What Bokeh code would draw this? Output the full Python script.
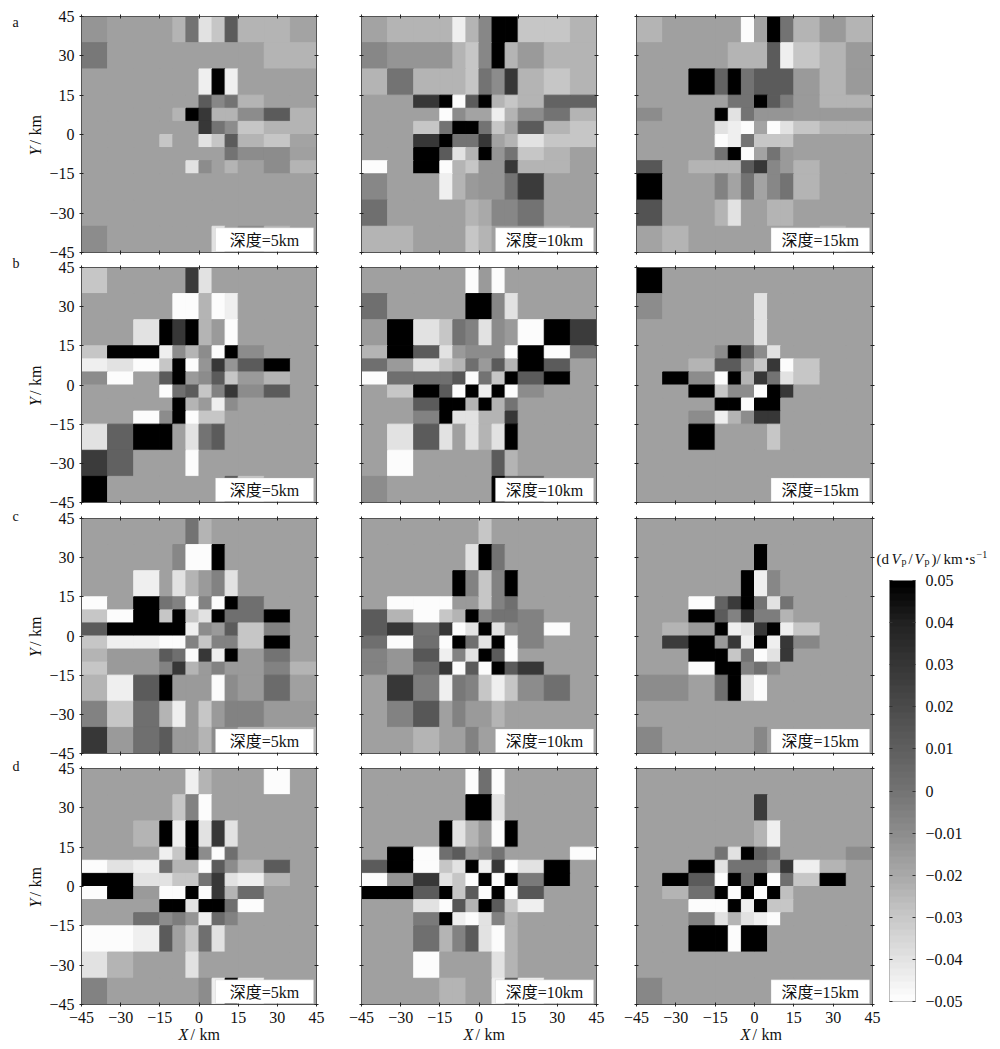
import numpy as np
from bokeh.embed import file_html
from bokeh.layouts import column, row
from bokeh.models import (BoxAnnotation, ColumnDataSource, FixedTicker, Label, LinearAxis,
                          LinearColorMapper, Range1d)
from bokeh.core.properties import value
from bokeh.plotting import figure
from bokeh.resources import INLINE
from bokeh.transform import transform

X_EDGES = [-45, -35, -25, -15, -10, -5, 0, 5, 10, 15, 25, 35, 45]
Y_EDGES = [45, 35, 25, 15, 10, 5, 0, -5, -10, -15, -25, -35, -45]
TICKS = [-45, -30, -15, 0, 15, 30, 45]
TICK_LABELS = ["\u221245", "\u221230", "\u221215", "0", "15", "30", "45"]
CB_TICKS = [50, 40, 30, 20, 10, 0, -10, -20, -30, -40, -50]
CB_LABELS = ["0.05", "0.04", "0.03", "0.02", "0.01", "0", "\u22120.01", "\u22120.02", "\u22120.03", "\u22120.04", "\u22120.05"]
CB_STOPS = [-50, -40, -30, -20, -10, 0, 10, 20, 30, 40, 50]
CB_GRAYS = [252, 225, 198, 168, 140, 115, 95, 75, 55, 35, 0]
DEPTH_LABELS = ["\u6df1\u5ea6=5km", "\u6df1\u5ea6=10km", "\u6df1\u5ea6=15km"]

# values are (dVp/Vp) in thousandths, rows from Y=45 down to Y=-45, columns from X=-45 to X=45
a_5km = [
 [-13,-17,-17,-17,-24,0,-40,-30,12,-24,-24,-18],
 [-2,-17,-17,-17,-17,-17,-17,-17,-17,-17,-24,-24],
 [-17,-17,-17,-17,-17,-17,-45,50,-45,-17,-17,-17],
 [-17,-17,-17,-17,-17,-17,12,-8,0,-24,-17,-17],
 [-17,-17,-17,-17,-24,50,30,-24,-24,-10,12,-24],
 [-17,-17,-17,-17,-17,-17,30,0,-10,-30,-24,-24],
 [-17,-17,-17,-30,-17,-17,-40,-30,12,-24,-30,-18],
 [-17,-17,-17,-17,-17,-17,-17,-17,0,-10,-10,-17],
 [-17,-17,-17,-17,-17,-40,-10,-17,-24,-17,-10,-24],
 [-17,-17,-17,-17,-17,-17,-17,-17,-17,-17,-17,-17],
 [-17,-17,-17,-17,-17,-17,-17,-17,-17,-17,-17,-17],
 [-10,-17,-17,-17,-17,-17,-17,-40,-17,-10,-24,-17],
]
a_10km = [
 [-18,-24,-24,-24,-45,-24,-8,50,50,-30,-30,-24],
 [-8,-13,-13,-13,-24,-30,-8,50,-24,-15,-24,-24],
 [-24,0,-24,-24,-24,-30,0,-10,30,-24,-30,-24],
 [-17,-17,30,50,-50,12,50,-24,-30,-24,8,8],
 [-17,-17,-17,-50,-10,-18,-18,-45,-24,-10,0,-24],
 [-17,-17,-30,0,50,50,0,-30,-18,12,-24,-30],
 [-17,-17,30,50,0,0,30,-18,-24,-40,-30,-30],
 [-17,-17,50,12,-40,-24,50,-13,0,-30,-24,-17],
 [-50,-17,50,-50,-24,-30,-13,-13,30,-24,-24,-17],
 [-8,-17,-17,-45,-24,-15,-13,-13,0,28,-17,-17],
 [2,-17,-17,-17,-17,-24,-20,-8,-8,0,-17,-17],
 [-24,-24,-17,-17,-17,-30,-24,-17,-17,-17,-24,-17],
]
a_15km = [
 [-24,-17,-17,-17,-17,-50,-18,50,0,-24,-15,-24],
 [-17,-17,-17,-17,-24,-24,-24,12,-45,-30,-24,-15],
 [-17,-17,50,8,50,0,12,12,12,-15,-24,-15],
 [-17,-17,-17,-17,0,0,50,12,-4,-15,-24,-24],
 [-10,-17,-17,50,-40,0,-13,-13,-13,-15,-15,-15],
 [-17,-17,-17,-40,-45,-50,-18,-50,-40,-30,-24,-24],
 [-17,-17,-17,-50,-45,0,-30,-30,-30,-17,-17,-17],
 [-17,-17,-17,0,50,-50,-18,0,-15,-17,-17,-17],
 [14,-17,-24,-24,-24,12,30,-8,-15,-24,-17,-17],
 [50,-17,-17,-6,-18,0,-18,-8,0,-24,-17,-17],
 [16,-17,-17,-24,-40,-17,-17,-24,-24,-17,-17,-17],
 [-18,-24,-17,-17,-17,-17,-17,-17,-17,-17,-24,-17],
]
b_5km = [
 [-30,-17,-17,-17,-17,28,-40,-17,-17,-17,-17,-17],
 [-17,-17,-17,-17,-50,-50,-24,-50,-45,-17,-17,-17],
 [-17,-17,-40,50,30,50,-24,-15,-50,-17,-17,-17],
 [-30,50,50,-45,-10,-24,-10,-50,50,-10,-17,-17],
 [-45,-40,-50,-30,50,-50,-13,30,-13,12,50,-17],
 [-10,-50,-17,12,50,-15,-10,12,-30,-15,-24,-17],
 [-17,-17,-17,-50,2,12,-30,-6,30,-10,12,-17],
 [-17,-17,-17,-17,50,-24,-15,-45,-10,-17,-17,-17],
 [-17,-17,-50,-10,50,-50,-30,-30,-17,-17,-17,-17],
 [-40,9,50,50,-17,-40,0,12,-17,-17,-17,-17],
 [28,9,-17,-17,-17,-50,-17,-17,-17,-17,-17,-17],
 [50,-17,-17,-17,-17,-17,-17,-17,12,-30,-17,-17],
]
b_10km = [
 [-17,-17,-17,-17,-17,-50,-15,-50,-17,-17,-17,-17],
 [2,-17,-17,-17,-17,50,50,-8,-40,-17,-17,-17],
 [-15,50,-40,-30,0,-6,-40,-10,-15,-50,50,28],
 [-24,50,12,-40,-15,-10,-10,-10,-50,50,-50,0],
 [2,-15,-40,-30,-24,2,-15,12,-24,50,12,-17],
 [-50,2,2,2,14,-50,0,-30,50,12,50,-17],
 [-17,-30,50,12,-50,50,-45,50,-50,-10,-17,-17],
 [-17,-17,12,50,50,-24,50,-24,0,-17,-17,-17],
 [-17,-17,-6,50,-40,-40,-24,-24,30,-17,-17,-17],
 [-17,-40,12,-40,-17,-40,-24,-40,50,-17,-17,-17],
 [-17,-50,-17,-17,-17,-17,-17,12,-24,-17,-17,-17],
 [-10,-17,-17,-17,-17,-17,-17,50,12,12,-17,-17],
]
b_15km = [
 [50,-17,-17,-17,-17,-17,-17,-17,-17,-17,-17,-17],
 [-10,-17,-17,-17,-17,-17,-40,-17,-17,-17,-17,-17],
 [-17,-17,-17,-17,-17,-17,-40,-17,-17,-17,-17,-17],
 [-17,-17,-17,-10,50,12,-10,-40,-17,-17,-17,-17],
 [-17,-17,-24,12,12,-15,-30,30,-50,-30,-17,-17],
 [-17,50,-10,-50,50,-24,30,0,-40,-30,-17,-17],
 [-17,-17,50,-30,-10,-10,-50,50,30,-17,-17,-17],
 [-17,-17,-17,50,50,-50,50,50,-17,-17,-17,-17],
 [-17,-17,-10,-45,-24,-10,30,30,-17,-17,-17,-17],
 [-17,-17,50,-17,-17,-17,-17,-30,-17,-17,-17,-17],
 [-17,-17,-17,-17,-17,-17,-17,-17,-17,-17,-17,-17],
 [-17,-17,-17,-17,-17,-17,-17,-17,-17,-17,-17,-17],
]
c_5km = [
 [-17,-17,-17,-17,-17,0,-24,-17,-17,-17,-17,-17],
 [-17,-17,-17,-17,-8,-50,-50,50,-17,-17,-17,-17],
 [-17,-17,-45,-17,-40,-24,-15,-6,-40,-17,-17,-17],
 [-50,-17,50,0,-6,-50,-6,-50,50,2,-17,-17],
 [-30,-50,50,-30,50,-30,-40,50,2,2,50,-17],
 [12,50,50,50,50,-45,-10,-15,12,-30,-6,-17],
 [-30,-45,-45,-50,-50,-6,-30,-6,-6,-30,50,-17],
 [-24,-15,-15,12,2,-50,30,-45,50,-15,0,-17],
 [-30,-15,-15,-6,30,-24,-15,-6,-15,-15,-6,-24],
 [-24,-45,12,50,-15,-15,-15,-50,-10,-15,4,-17],
 [-6,-30,2,-24,-45,-15,-30,-15,-6,-6,-15,-15],
 [30,-15,2,12,-15,-15,-24,-10,-10,-24,-24,-24],
]
c_10km = [
 [-17,-17,-17,-17,-17,-17,-30,-17,-17,-17,-17,-17],
 [-17,-17,-17,-17,-17,-40,50,0,-17,-17,-17,-17],
 [-17,-17,-17,-17,50,-6,-30,-6,50,-17,-17,-17],
 [-17,-50,-50,-50,-15,-15,-30,-6,2,-17,-17,-17],
 [12,-24,-50,-30,-24,50,-6,0,0,-6,-17,-17],
 [12,30,0,30,-50,-40,50,-40,-10,-6,-50,-17],
 [2,-50,2,-50,50,2,-40,50,-50,-6,-17,-17],
 [-6,-13,14,-45,-6,-40,50,12,-50,-17,-17,-17],
 [-6,-13,2,30,-50,12,-50,50,12,30,-17,-17],
 [-17,30,-4,-45,-2,-6,-30,-45,-30,-10,2,-17],
 [-17,-6,14,-17,-6,-15,-15,-24,-17,-17,-17,-17],
 [-17,-17,-24,-17,-17,-6,-17,-17,-17,-17,-17,-17],
]
c_15km = [
 [-17,-17,-17,-17,-17,-17,-17,-17,-17,-17,-17,-17],
 [-17,-17,-17,-17,-17,-17,50,-17,-17,-17,-17,-17],
 [-17,-17,-17,-17,-17,50,-45,-8,-17,-17,-17,-17],
 [-17,-17,-50,8,28,50,0,-40,0,-17,-17,-17],
 [-17,-17,50,12,-6,34,-4,-4,-24,-17,-17,-17],
 [-17,-24,-15,50,-45,-40,30,50,-45,-30,-17,-17],
 [-17,28,50,-15,30,-45,50,-45,30,-8,-17,-17],
 [-17,-17,50,50,-30,0,-50,-40,30,-17,-17,-17],
 [-17,-17,-50,50,50,-6,2,-10,-17,-17,-17,-17],
 [-10,-10,-17,2,50,-40,-50,-17,-17,-17,-17,-17],
 [-17,-17,-17,-17,-17,-17,-17,-17,-17,-17,-17,-17],
 [-8,-17,-17,-17,-17,-17,-8,-17,-17,-17,-17,-17],
]
d_5km = [
 [-17,-17,-17,-17,-17,-45,-24,-17,-17,-17,-50,-17],
 [-17,-17,-17,-17,-30,-6,-50,-17,-17,-17,-17,-17],
 [-17,-17,-24,50,-45,50,-40,30,-40,-17,-17,-17],
 [-17,-17,-17,-45,-30,50,-10,-50,2,-17,-17,-17],
 [-50,-40,-45,2,-24,-24,-50,12,-10,-24,12,-17],
 [50,50,-40,-40,-30,-30,0,30,-40,-45,-24,-17],
 [-50,50,-15,-50,-50,50,-50,30,-24,4,-17,-17],
 [-17,-17,-17,50,50,-40,50,50,2,-50,-17,-17],
 [-17,-17,2,-10,-4,-13,-45,4,-6,-17,-17,-17],
 [-50,-50,-45,12,-17,-30,2,-40,-17,-17,-17,-17],
 [-40,-24,-17,-17,-17,-40,-17,-17,-17,-17,-17,-17],
 [-6,-17,-17,-17,-17,-17,-10,-45,50,-45,-17,-17],
]
d_10km = [
 [-17,-17,-17,-17,-17,-50,2,-50,-17,-17,-17,-17],
 [-17,-17,-17,-17,-17,50,50,-40,-17,-17,-17,-17],
 [-17,-17,-17,50,-40,-24,-15,-50,50,-17,-17,-17],
 [-17,50,-50,2,12,-15,-10,0,-17,-17,-17,-50],
 [12,50,-50,-30,-40,50,-45,30,-50,-40,50,-17],
 [-50,-13,30,-40,-30,-50,50,-50,50,-3,50,-17],
 [50,50,12,50,-30,12,-50,50,-50,14,-17,-17],
 [-17,-17,-40,-50,14,-24,50,12,-30,-45,-17,-17],
 [-17,-17,-3,50,-45,-50,-40,-6,-24,-17,-17,-17],
 [-17,-17,2,-24,-6,12,-40,-50,-24,-17,-17,-17],
 [-17,-17,-50,-17,-17,-17,-17,-40,-24,-17,-17,-17],
 [-17,-17,-17,-24,-24,-17,-17,-45,12,-45,-17,-17],
]
d_15km = [
 [-17,-17,-17,-17,-17,-17,-17,-17,-17,-17,-17,-17],
 [-17,-17,-17,-17,-17,-17,28,-17,-17,-17,-17,-17],
 [-17,-17,-17,-17,-17,-17,-24,-45,-17,-17,-17,-17],
 [-17,-17,-17,0,-40,50,9,0,-17,-17,-17,-10],
 [-17,-17,50,-40,0,0,0,-13,30,-45,-24,-17],
 [-17,50,12,-50,50,2,50,-50,2,-30,50,-17],
 [-17,-24,2,50,-50,50,-50,50,-28,-17,-17,-17],
 [-17,-17,-50,-50,50,-45,50,-30,-30,-17,-17,-17],
 [-17,-17,-6,-40,-24,-40,-45,-50,-17,-17,-17,-17],
 [-17,-17,50,50,-50,50,50,-17,-17,-17,-17,-17],
 [-17,-17,-17,-17,-17,-17,-17,-17,-17,-17,-17,-17],
 [-8,-17,-17,-17,-17,-17,-17,-17,-17,-17,-17,-17],
]
PANELS = [[a_5km, a_10km, a_15km], [b_5km, b_10km, b_15km], [c_5km, c_10km, c_15km], [d_5km, d_10km, d_15km]]

SERIF = "Liberation Serif"
MIXED = "Liberation Serif, 'Noto Sans CJK SC'"
AXIS_COLOR = "#555555"

# layout in page pixels
COL_LEFT = [0, 338, 616]
COL_BORDERS = [(81, 235, 22), (23, 235, 20), (20, 236, 9)]
ROW_TOP = [0, 257, 508, 758]
ROW_BORDERS = [(16, 236, 10), (10, 235, 10), (10, 235, 10), (10, 236, 37)]
ROW_OVERLAP = [0, 5, 4, 5]
LETTERS = [("a", 22), ("b", 263), ("c", 516), ("d", 766)]
LETTER_X = 12
XLABEL_X = [178, 463, 740]

gray = np.interp(np.arange(256) / 255 * 100 - 50, CB_STOPS, CB_GRAYS).round().astype(int)
palette = ["#%02x%02x%02x" % (g, g, g) for g in gray]
mapper = LinearColorMapper(palette=palette, low=-50, high=50)
tick_over = dict(zip(TICKS, TICK_LABELS))
blank_over = {t: "" for t in TICKS}


def blank_axis():
    return LinearAxis(ticker=FixedTicker(ticks=TICKS), major_label_overrides=blank_over,
                      major_label_text_font_size="1px", major_label_standoff=0,
                      major_tick_in=2, major_tick_out=2, minor_tick_in=0, minor_tick_out=0,
                      axis_line_color=AXIS_COLOR, major_tick_line_color="#222222")


def shown_axis():
    return LinearAxis(ticker=FixedTicker(ticks=TICKS), major_label_overrides=tick_over,
                      major_label_text_font=SERIF, major_label_text_font_size="16px",
                      major_label_text_color="#111111", major_label_standoff=5,
                      major_tick_in=2, major_tick_out=2, minor_tick_in=0, minor_tick_out=0,
                      axis_line_color=AXIS_COLOR, major_tick_line_color="#222222")


def text_at(p, frame, px, py, text, size=16, style="normal", angle=0, baseline="middle"):
    # frame = (page left, page top, width, height, x0, x1, y0, y1); place text at a page pixel
    fl, ft, fw, fh, x0, x1, y0, y1 = frame
    x = x0 + (px - fl) / fw * (x1 - x0)
    y = y1 - (py - ft) / fh * (y1 - y0)
    p.text(x=[x], y=[y], text=[text], text_font=value(SERIF), text_font_size=f"{size}px",
           text_font_style=style, text_align="left", text_baseline=baseline, angle=angle,
           angle_units="deg", text_color="#111111", level="guide")


rows = []
for r in range(4):
    figs = []
    top, fh, bottom = ROW_BORDERS[r]
    for c in range(3):
        left, fw, right = COL_BORDERS[c]
        p = figure(width=left + fw + right, height=top + fh + bottom, output_backend="svg",
                   toolbar_location=None, x_range=Range1d(-45, 45), y_range=Range1d(-45, 45),
                   x_axis_location=None, y_axis_location=None, min_border_left=left,
                   min_border_right=right, min_border_top=top, min_border_bottom=bottom)
        p.grid.visible = False
        p.outline_line_color = AXIS_COLOR
        p.background_fill_color = "#a0a0a0"
        p.border_fill_color = None
        ls, rs, bs, ts, vs = [], [], [], [], []
        for i in range(12):
            for j in range(12):
                ls.append(X_EDGES[j]); rs.append(X_EDGES[j + 1])
                ts.append(Y_EDGES[i]); bs.append(Y_EDGES[i + 1])
                vs.append(PANELS[r][c][i][j])
        src = ColumnDataSource(dict(left=ls, right=rs, top=ts, bottom=bs, value=vs))
        p.quad(left="left", right="right", top="top", bottom="bottom", source=src,
               fill_color=transform("value", mapper), line_color=transform("value", mapper),
               line_width=1)
        p.add_layout(blank_axis(), "above")
        p.add_layout(blank_axis(), "right")
        p.add_layout(shown_axis() if r == 3 else blank_axis(), "below")
        p.add_layout(shown_axis() if c == 0 else blank_axis(), "left")
        p.add_layout(BoxAnnotation(left=6.3, right=43.9, bottom=-44.6, top=-35.6, fill_color="white",
                                   fill_alpha=1, line_color="#bbbbbb", line_width=1))
        p.add_layout(Label(x=25.1, y=-40.3, text=DEPTH_LABELS[c], text_font=MIXED, text_font_size="16px",
                           text_align="center", text_baseline="middle", text_color="#111111"))
        frame = (COL_LEFT[c] + left, ROW_TOP[r] + top, fw, fh, -45, 45, -45, 45)
        if c == 0:
            cy = ROW_TOP[r] + top + fh / 2
            text_at(p, frame, 35, cy + 21, "Y", style="italic", angle=90)
            text_at(p, frame, 35, cy + 10, "/", angle=90)
            text_at(p, frame, 35, cy + 1, "km", angle=90)
            letter, ly = LETTERS[r]
            text_at(p, frame, LETTER_X, ly, letter, size=14, baseline="alphabetic")
        if r == 3:
            x0 = XLABEL_X[c]
            text_at(p, frame, x0, 1034, "X", style="italic")
            text_at(p, frame, x0 + 12, 1034, "/")
            text_at(p, frame, x0 + 21, 1034, "km")
        figs.append(p)
    rows.append(row(*figs, margin=(-ROW_OVERLAP[r], 0, 0, 0)))

# colour bar
cb = figure(width=125, height=1041, output_backend="svg", toolbar_location=None,
            x_range=Range1d(0, 1), y_range=Range1d(-50, 50), x_axis_location=None, y_axis_location=None,
            min_border_left=14, min_border_right=85, min_border_top=580, min_border_bottom=40,
            margin=(0, 0, 0, -6))
cb.grid.visible = False
cb.outline_line_color = "#aaaaaa"
cb.border_fill_color = None
levels = np.linspace(-50, 50, 64).reshape(-1, 1)
cb.image(image=[levels], x=0, y=-50, dw=1, dh=100, color_mapper=mapper)
cb_over = dict(zip(CB_TICKS, CB_LABELS))
cb_right = LinearAxis(ticker=FixedTicker(ticks=CB_TICKS), major_label_overrides=cb_over,
                      major_label_text_font=SERIF, major_label_text_font_size="16px",
                      major_label_text_color="#111111", major_label_standoff=10,
                      major_tick_in=3, major_tick_out=0, minor_tick_in=0, minor_tick_out=0,
                      axis_line_color=None, major_tick_line_color="#333333")
cb.add_layout(cb_right, "right")
cb_leftax = LinearAxis(ticker=FixedTicker(ticks=CB_TICKS),
                       major_label_overrides={t: "" for t in CB_TICKS}, major_label_text_font_size="1px",
                       major_label_standoff=0, major_tick_in=3, major_tick_out=0, minor_tick_in=0,
                       minor_tick_out=0, axis_line_color=None, major_tick_line_color="#333333")
cb.add_layout(cb_leftax, "left")
cb_frame = (889, 580, 26, 421, 0, 1, -50, 50)
for px, py, txt, sz, st in [
    (876, 558, "(d", 15, "normal"), (891, 558, "V", 15, "italic"), (901, 561, "p", 10, "normal"),
    (908, 558, "/", 15, "normal"), (914, 558, "V", 15, "italic"), (924, 561, "p", 10, "normal"),
    (931, 558, ")/", 15, "normal"), (943, 558, "km", 15, "normal"), (964, 558, "\u00b7", 15, "bold"),
    (969, 558, "s", 15, "normal"), (976, 554, "\u22121", 10, "normal"),
]:
    text_at(cb, cb_frame, px, py, txt, size=sz, style=st)

layout = row(column(*rows), cb)
open("out.html", "w").write(file_html(layout, INLINE))
